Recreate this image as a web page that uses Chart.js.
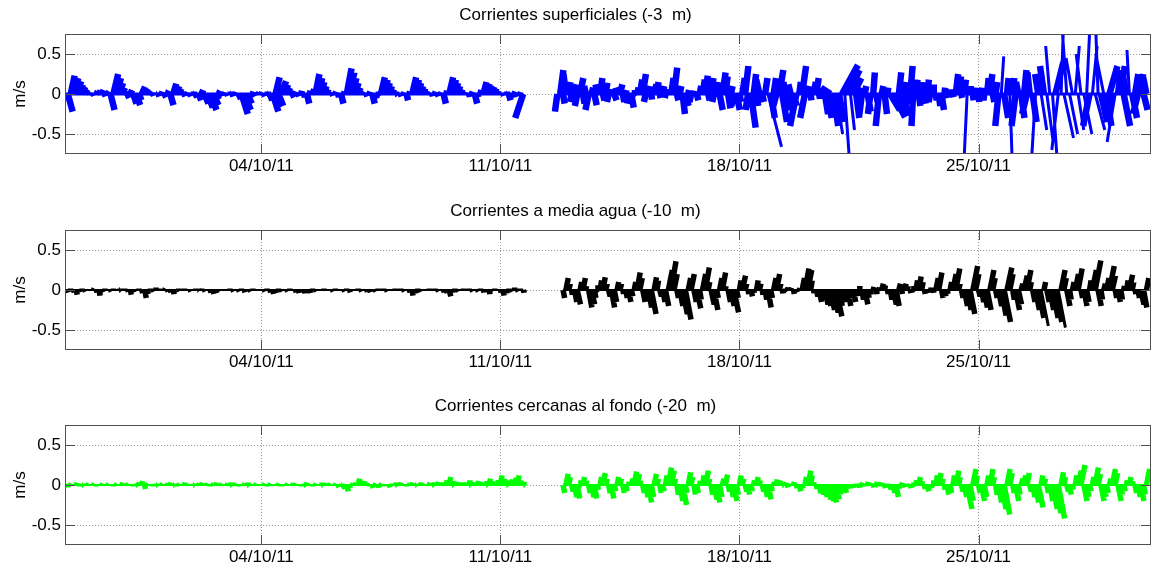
<!DOCTYPE html>
<html><head><meta charset="utf-8">
<script src="https://cdn.jsdelivr.net/npm/chart.js@4.4.1/dist/chart.umd.min.js"></script>
<style>
html,body{margin:0;padding:0;background:#fff;overflow:hidden;width:1153px;height:571px;position:relative}
canvas{position:absolute;left:0}
</style></head>
<body>
<canvas id="c1" width="1153" height="196" style="top:0px"></canvas>
<canvas id="c2" width="1153" height="196" style="top:196px"></canvas>
<canvas id="c3" width="1153" height="196" style="top:391px"></canvas>
<script>
// Time axis: days since 28/09/11 00:00; one stick every 2 hours (12 per day)
const STEP_DAYS = 1 / 12;
const X_MIN = 0.25, X_MAX = 32.05;
const tickDays = [6, 13, 20, 27];
const tickLabels = ['04/10/11', '11/10/11', '18/10/11', '25/10/11'];
const yTickVals = [-0.5, 0, 0.5];
const yTickLabels = ['-0.5', '0', '0.5'];
const titles = ['Corrientes superficiales (-3  m)', 'Corrientes a media agua (-10  m)', 'Corrientes cercanas al fondo (-20  m)'];
const _ = null;

// Surface (-3 m): north (v) and east (u) components, cm/s
const surfV = [
_,_,_,-6,-22,23,20,16,12,9,6,3,
2,-2,3,4,5,-3,3,-20,25,20,14,8,
4,-5,5,-12,-14,-8,9,7,5,3,-2,2,
-3,3,-4,4,-14,13,10,7,4,-3,2,-3,
3,-4,-8,5,-12,-17,-20,-14,-7,4,-3,2,
-2,3,-3,2,-6,-25,-20,-12,-5,3,-2,2,
2,-3,3,-8,-22,21,-15,16,12,8,5,-4,
3,-3,4,-4,-12,4,6,25,20,15,10,6,
3,-2,3,-4,-12,3,32,27,20,14,8,4,
2,-3,3,-12,-6,3,21,18,14,10,6,3,
2,-3,2,-8,3,21,18,14,10,7,4,2,
-2,3,-3,2,-12,4,21,18,14,10,6,3,
2,-3,3,-12,-4,5,15,13,11,9,7,4,
2,-2,3,-8,-5,3,-3,2,-30,_,_,_,
_,_,_,_,_,_,_,_,-22,30,-12,25,
15,-10,12,-15,20,-12,10,-20,8,-14,12,20,
-8,14,-10,6,-8,8,12,-10,5,-12,-17,5,
8,18,25,-10,10,-7,12,15,-5,10,-5,6,
20,33,-8,10,-25,-15,5,-10,4,-8,10,18,
23,-8,20,-10,15,-20,27,22,-18,10,-15,-20,
-10,20,35,-20,-42,25,-15,18,-10,20,-66,-30,
20,-15,30,-35,15,-20,12,-15,-40,15,35,-30,
10,-8,15,20,-6,5,-25,-30,8,-40,-50,-35,
36,-85,30,-45,20,-30,8,-25,10,-22,-25,27,
-10,-40,10,-25,8,-20,-29,-25,27,-15,15,-20,
35,-40,18,-15,15,-12,18,-10,12,-8,-15,-20,
8,-5,6,-4,25,22,-5,18,-85,10,-8,8,
-10,8,-8,20,25,-10,15,-40,47,-30,20,-85,
20,-40,15,-30,30,-25,27,-35,-85,25,-45,35,
-60,60,-85,40,-70,85,-55,85,-50,45,60,-45,
50,-50,85,-40,60,-45,85,-35,50,-40,35,-30,
-60,30,35,-40,20,55,-30,25,-25,25,-20,20
];
const surfU = [
_,_,_,2,6,5,6,6,5,4,3,2,
1,1,2,2,2,1,2,5,6,6,5,4,
3,2,2,4,5,3,4,4,3,2,1,1,
1,1,2,2,4,4,4,3,2,1,1,1,
1,2,3,2,5,7,8,7,4,2,1,1,
1,1,1,1,3,8,8,6,3,1,1,1,
1,1,1,3,7,5,6,6,5,4,3,2,
1,1,1,1,3,1,2,5,5,4,3,2,
1,1,1,1,3,1,6,6,5,4,3,2,
1,1,1,3,2,1,5,5,4,3,2,1,
1,1,1,2,1,5,5,4,3,2,2,1,
1,1,1,1,3,1,5,5,4,3,2,1,
1,1,1,3,1,1,4,4,3,3,2,1,
1,1,1,2,1,1,1,1,-10,_,_,_,
_,_,_,_,_,_,_,_,-3,4,2,-3,
2,-2,3,-3,4,2,-2,-4,2,3,-2,3,
2,2,-2,1,3,-2,3,2,1,-2,3,1,
2,3,4,-2,2,1,3,2,1,2,-1,1,
3,4,2,2,3,4,1,-2,1,2,2,3,
3,2,3,-2,2,4,4,3,3,2,-3,4,
2,3,4,-3,6,3,2,-4,2,3,17,5,
3,-4,5,6,-2,3,-3,4,-8,2,5,-6,
2,1,3,3,1,-2,4,5,-12,6,8,6,
20,6,15,5,10,4,3,-3,2,4,-3,2,
2,-4,2,3,1,12,15,18,3,2,2,-3,
3,-2,2,2,1,2,2,-2,1,1,2,3,
1,1,1,1,3,3,1,2,-4,1,1,1,
1,1,-1,2,3,2,2,-4,3,5,2,3,
2,-5,-3,4,3,-6,-3,5,-5,-4,7,-5,
8,-5,6,10,-8,3,12,-6,10,-8,5,7,
-6,10,4,-8,6,12,-3,8,-10,6,10,-5,
-10,4,5,8,-4,-3,6,4,-6,3,5,-4
];

// Mid-water (-10 m)
const midV = [
_,_,_,-2,-3,2,-3,-6,-3,2,-2,1,
-1,2,-3,-7,-3,2,1,-2,2,-1,2,-1,
2,-2,-6,-3,1,2,-4,-10,-5,2,-2,3,
2,-1,2,-2,-3,-5,-3,2,-1,2,1,-2,
1,2,-1,2,-2,1,-3,-5,-4,-2,1,1,
-1,2,-2,1,-2,2,-3,1,-2,2,-1,1,
1,-2,2,-3,-5,-4,2,-2,1,-2,2,-1,
-3,-4,-2,-4,-3,-4,2,-2,1,-1,2,-1,
1,-2,2,-1,1,-2,2,-3,1,-1,2,-2,
1,-2,-3,1,-2,2,-1,2,-2,1,-1,2,
-1,2,-2,1,-3,-7,-4,2,-2,1,-1,2,
-1,2,-2,1,-3,-4,-8,-3,2,-2,1,2,
-1,2,-2,1,-2,2,-3,-2,-5,-2,2,-1,
-3,-7,-4,2,-2,3,-2,2,-3,_,_,_,
_,_,_,_,_,_,_,_,_,_,-10,15,
8,-6,-15,-18,10,15,5,-22,-18,-10,6,12,
16,8,-8,-22,-15,10,8,-5,-10,-15,-8,10,
22,15,-15,-10,-22,-30,16,12,-8,-15,-20,25,
36,20,-10,-20,-30,-37,15,20,-15,-23,-12,20,
28,10,-18,-25,-10,15,22,5,-15,-20,-28,-10,
12,18,8,-5,-8,-4,12,8,-6,-12,-22,-10,
15,20,8,-4,2,3,3,-5,-3,2,15,27,
25,12,-4,-8,-15,-12,-18,-20,-25,-28,-33,-20,
-12,-15,-20,-10,-15,-8,5,-12,-18,-10,-6,4,
-5,3,8,6,-5,-12,-18,-20,8,-5,8,5,
-4,5,12,17,10,-5,-4,3,-3,15,22,-10,
-8,-5,10,20,27,8,-10,-20,-25,-30,30,20,
-8,-15,-22,-25,25,15,-10,-20,-32,-40,28,20,
-12,-25,-18,8,18,25,10,-15,-25,-35,-45,10,
-15,-25,-35,-40,-47,25,15,-20,-12,10,20,27,
-10,-20,-15,12,25,37,-20,-12,8,15,30,18,
-10,-15,-12,5,12,19,10,-5,-10,-18,-22,15
];
const midU = [
_,_,_,1,1,0,1,1,1,0,1,0,
0,1,1,1,1,0,0,1,0,0,1,0,
0,1,1,1,0,0,1,2,1,0,1,0,
0,0,1,1,1,1,1,0,0,0,0,1,
0,0,1,0,1,0,1,1,1,1,0,0,
0,0,1,0,1,0,1,0,1,0,0,0,
0,1,0,1,1,1,0,1,0,1,0,0,
1,1,1,1,1,1,0,1,0,0,0,0,
0,1,0,0,0,1,0,1,0,0,0,1,
0,1,1,0,1,0,0,0,1,0,0,0,
0,0,1,0,1,1,1,0,1,0,0,0,
0,0,1,0,1,1,2,1,0,1,0,0,
0,0,1,0,1,0,1,1,1,1,0,0,
1,1,1,0,1,0,1,0,1,_,_,_,
_,_,_,_,_,_,_,_,_,_,2,3,
2,1,3,4,2,3,1,4,4,2,1,2,
3,2,2,4,3,2,2,1,2,3,2,2,
4,3,3,2,4,6,3,2,2,3,4,5,
6,4,2,4,6,7,3,4,3,5,2,4,
5,2,4,5,2,3,4,1,3,4,6,2,
2,4,2,1,2,1,2,2,1,2,4,2,
3,4,2,1,1,1,1,1,1,1,3,5,
5,2,1,2,3,2,4,4,5,6,7,4,
2,3,4,2,3,2,1,2,4,2,1,1,
1,1,2,1,1,2,4,4,2,1,2,1,
1,1,2,3,2,1,1,1,1,3,4,2,
2,1,2,4,5,2,2,4,5,6,6,4,
2,3,4,5,5,3,2,4,6,8,6,4,
2,5,4,2,4,5,2,3,5,7,9,2,
3,5,7,8,9,5,3,4,2,2,4,5,
2,4,3,2,5,7,4,2,2,3,6,4,
2,3,2,1,2,4,2,1,2,4,4,3
];

// Near-bottom (-20 m)
const deepV = [
_,_,_,2,-3,2,1,3,-2,2,1,2,
1,2,-2,1,2,-1,2,1,-2,2,1,3,
-1,2,1,-2,2,3,5,-5,2,1,-2,2,
1,2,-1,2,3,2,-2,2,1,3,2,1,
2,-1,2,3,1,2,-2,2,3,1,2,-1,
2,3,1,2,-2,1,2,3,2,1,2,-1,
1,2,-2,2,1,-1,2,-2,1,2,-1,2,
2,1,-2,2,3,1,-2,2,1,3,-1,2,
2,-1,2,-3,2,-5,-8,-4,2,3,8,6,
5,3,-2,-4,2,-3,2,-2,1,-3,2,3,
2,3,1,-2,2,3,2,1,3,2,-1,3,
2,3,4,2,3,6,10,5,3,4,2,3,
3,6,4,3,5,4,3,5,8,5,4,6,
12,8,6,5,7,9,12,6,4,_,_,_,
_,_,_,_,_,_,_,_,_,_,-10,14,
10,-8,-15,-17,6,10,6,-10,-15,-17,-6,10,
15,8,-10,-17,-8,10,8,-10,-8,4,8,17,
14,6,-10,-15,-22,-15,14,8,-10,-8,12,22,
18,8,-12,-20,-25,-10,16,10,-12,-10,5,12,
18,8,-12,-18,-22,-15,8,13,-8,-15,-20,-12,
12,8,-8,-12,-8,6,10,6,-8,-15,-18,-8,
4,7,6,4,3,-3,2,4,-4,-8,-4,10,
18,12,4,-5,-10,-12,-15,-18,-20,-22,-18,-12,
-8,-10,-5,-3,-4,2,-3,3,-2,4,3,-3,
4,-2,3,-4,2,-6,-10,-15,-5,3,-3,2,
-4,3,6,10,5,-5,-8,-4,6,12,15,8,
-6,-12,-10,12,18,10,-8,-15,-30,-20,20,12,
-10,-20,-15,12,20,10,-12,-22,-30,-37,20,15,
-10,-20,-12,8,12,15,-8,-15,-22,-28,12,8,
-10,-20,-30,-35,-42,16,10,-8,-12,-6,12,18,
25,-20,-15,-8,10,22,14,-20,-15,-10,8,20,
15,-20,-12,-8,6,10,5,-10,-15,-20,-12,20
];
const deepU = [
_,_,_,1,0,1,0,1,0,1,0,1,
0,1,0,0,1,0,1,0,0,1,0,1,
0,1,0,0,1,1,1,1,1,0,0,1,
0,1,0,1,1,1,0,1,0,1,1,0,
1,0,1,1,0,1,0,1,1,0,1,0,
1,1,0,1,0,0,1,1,1,0,1,0,
0,1,0,1,0,0,1,0,0,1,0,1,
1,0,0,1,1,0,0,1,0,1,0,1,
1,0,1,1,1,1,2,1,1,1,2,1,
1,1,0,1,1,1,1,0,0,1,0,1,
1,1,0,0,1,1,1,0,1,1,0,1,
1,1,1,1,1,1,2,1,1,1,1,1,
1,1,1,1,1,1,1,1,2,1,1,1,
2,2,1,1,1,2,2,1,1,_,_,_,
_,_,_,_,_,_,_,_,_,_,2,3,
2,2,3,3,1,2,1,2,3,3,1,2,
3,2,2,3,2,2,2,2,2,1,2,3,
3,1,2,3,4,3,3,2,2,2,2,4,
4,2,2,4,5,2,3,2,2,2,1,2,
4,2,2,4,4,3,2,3,2,3,4,2,
2,2,2,2,2,1,2,1,2,3,4,2,
1,1,1,1,1,1,0,1,1,2,1,2,
4,2,1,1,2,2,3,4,4,4,4,2,
2,2,1,1,1,0,1,1,0,1,1,1,
1,0,1,1,0,1,2,3,1,1,1,0,
1,1,1,2,1,1,2,1,1,2,3,2,
1,2,2,2,4,2,2,3,6,4,4,2,
2,4,3,2,4,2,2,4,6,7,4,3,
2,4,2,2,2,3,2,3,4,6,2,2,
2,4,6,7,8,3,2,2,2,1,2,4,
5,4,3,2,2,4,3,4,3,2,2,4,
3,4,2,2,1,2,1,2,3,4,2,4
];

const FONT = "'Liberation Sans', Arial, Helvetica, sans-serif";
const FS = 17;
const PX_PER_MS = 80, PX_PER_DAY = 1086 / (X_MAX - X_MIN);
const U_DAYS_PER_MS = PX_PER_MS / PX_PER_DAY;
const LONG_STICK = 45; // cm/s: longer sticks drawn thinner

function stickData(vArr, uArr, keep) {
  const pts = [];
  vArr.forEach((v, i) => {
    if (v === null || !keep(v)) return;
    const t = i * STEP_DAYS;
    pts.push({x: t, y: 0}, {x: t + (uArr[i] / 100) * U_DAYS_PER_MS, y: v / 100}, {x: t, y: null});
  });
  return pts;
}
function baselineData(vArr) {
  const pts = [];
  let start = null;
  for (let i = 0; i <= vArr.length; i++) {
    const ok = i < vArr.length && vArr[i] !== null;
    if (ok && start === null) start = i;
    if (!ok && start !== null) {
      pts.push({x: start * STEP_DAYS, y: 0}, {x: (i - 1) * STEP_DAYS, y: 0}, {x: (i - 1) * STEP_DAYS, y: null});
      start = null;
    }
  }
  return pts;
}

const framePlugin = {
  id: 'frame',
  afterDraw(chart) {
    const {ctx, chartArea: a} = chart;
    const x = chart.scales.x, y = chart.scales.y;
    const TL = 10;
    ctx.save();
    ctx.strokeStyle = '#505050';
    ctx.lineWidth = 1;
    ctx.strokeRect(Math.round(a.left) + 0.5, Math.round(a.top) + 0.5, Math.round(a.right - a.left) - 1, Math.round(a.bottom - a.top) - 1);
    ctx.beginPath();
    tickDays.forEach(d => {
      const px = Math.round(x.getPixelForValue(d)) + 0.5;
      ctx.moveTo(px, a.bottom); ctx.lineTo(px, a.bottom - TL);
      ctx.moveTo(px, a.top); ctx.lineTo(px, a.top + TL);
    });
    yTickVals.forEach(v => {
      const py = Math.round(y.getPixelForValue(v)) + 0.5;
      ctx.moveTo(a.left, py); ctx.lineTo(a.left + TL, py);
      ctx.moveTo(a.right, py); ctx.lineTo(a.right - TL, py);
    });
    ctx.stroke();
    ctx.restore();
  }
};

function makePanel(id, title, color, vArr, uArr, baseW, stickW) {
  const stickStyle = {borderColor: color, pointRadius: 0, spanGaps: false, tension: 0, borderCapStyle: 'butt', borderJoinStyle: 'bevel'};
  new Chart(document.getElementById(id), {
    type: 'line',
    data: {
      datasets: [
        {data: baselineData(vArr), borderColor: color, borderWidth: baseW, pointRadius: 0, spanGaps: false, tension: 0},
        Object.assign({data: stickData(vArr, uArr, v => Math.abs(v) < LONG_STICK), borderWidth: stickW}, stickStyle),
        Object.assign({data: stickData(vArr, uArr, v => Math.abs(v) >= LONG_STICK), borderWidth: 3}, stickStyle)
      ]
    },
    options: {
      responsive: false, animation: false, events: [],
      layout: {padding: {left: 0, right: 2, top: 0, bottom: 0}},
      plugins: {
        legend: {display: false}, tooltip: {enabled: false},
        title: {display: true, text: title, color: '#000', font: {family: FONT, size: FS, weight: 'normal', lineHeight: 1.2}, padding: {top: 5.5, bottom: 8.1}}
      },
      scales: {
        x: {
          type: 'linear', min: X_MIN, max: X_MAX,
          afterBuildTicks: s => { s.ticks = tickDays.map(v => ({value: v})); },
          afterFit: s => { s.height = 42; },
          grid: {color: '#9a9a9a', lineWidth: 1, drawTicks: false},
          border: {display: false, dash: [1, 2]},
          ticks: {autoSkip: false, maxRotation: 0, padding: 2, color: '#000', font: {family: FONT, size: FS},
            callback: v => tickLabels[tickDays.indexOf(v)]}
        },
        y: {
          min: -0.75, max: 0.75,
          afterBuildTicks: s => { s.ticks = yTickVals.map(v => ({value: v})); },
          afterFit: s => { s.width = 65; },
          grid: {color: '#9a9a9a', lineWidth: 1, drawTicks: false},
          border: {display: false, dash: [1, 2]},
          title: {display: true, text: 'm/s', color: '#000', font: {family: FONT, size: FS}, padding: {top: 10, bottom: 0}},
          ticks: {padding: 4, color: '#000', font: {family: FONT, size: FS},
            callback: v => yTickLabels[yTickVals.indexOf(v)]}
        }
      }
    },
    plugins: [framePlugin]
  });
}

makePanel('c1', titles[0], '#0000ff', surfV, surfU, 3, 6.5);
makePanel('c2', titles[1], '#000000', midV, midU, 2, 5.5);
makePanel('c3', titles[2], '#00ff00', deepV, deepU, 2, 5.5);
</script>
</body></html>
